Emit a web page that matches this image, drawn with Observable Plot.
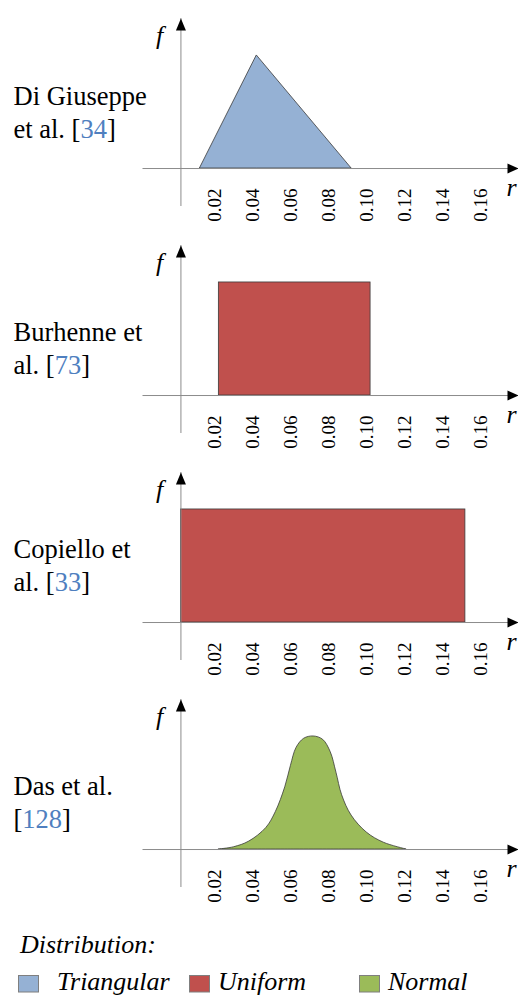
<!DOCTYPE html>
<html>
<head>
<meta charset="utf-8">
<script src="https://cdn.jsdelivr.net/npm/d3@7"></script>
<script src="https://cdn.jsdelivr.net/npm/@observablehq/plot@0.6"></script>
<style>
  html, body { margin: 0; padding: 0; background: #fff; }
  #chart { width: 518px; font-family: 'Liberation Serif', serif; }
  #chart svg { display: block; }
</style>
</head>
<body>
<div id="chart"></div>
<script>
// ---------------- data ----------------
const tickValues = [0.02, 0.04, 0.06, 0.08, 0.10, 0.12, 0.14, 0.16];
const tickLabels = ["0.02", "0.04", "0.06", "0.08", "0.10", "0.12", "0.14", "0.16"];

const studies = ["Di Giuseppe\net al. [34]", "Burhenne et\nal. [73]", "Copiello et\nal. [33]", "Das et al.\n[128]"];
const studyDistribution = ["Triangular", "Uniform", "Uniform", "Normal"];

// Di Giuseppe et al. – triangular
const triangularR = [0.01, 0.04, 0.09];
const triangularF = [0, 1, 0];
// Burhenne et al. – uniform
const uniformAR = [0.02, 0.10];
const uniformAF = [1, 1];
// Copiello et al. – uniform
const uniformBR = [0.00, 0.15];
const uniformBF = [1, 1];
// Das et al. – normal
const normalR = [0.020, 0.028, 0.036, 0.045, 0.050, 0.055, 0.058, 0.061, 0.065, 0.070, 0.075, 0.079, 0.082, 0.085, 0.090, 0.098, 0.107, 0.119];
const normalF = [0.00, 0.02, 0.07, 0.19, 0.33, 0.55, 0.74, 0.90, 0.98, 1.00, 0.97, 0.86, 0.68, 0.48, 0.30, 0.15, 0.06, 0.00];

const legendNames = ["Triangular", "Uniform", "Normal"];
const legendColors = ["#95b1d4", "#c0504d", "#9bbb59"];

// ---------------- helpers ----------------
const SERIF = "Liberation Serif";
const colorOf = name => legendColors[legendNames.indexOf(name)];
const OUTLINE = "#3a3a3a";
const AXIS = "#8c8c8c";
const REFBLUE = "#4f7fbf";

const arrowUp = {draw(ctx) { ctx.moveTo(0, 0); ctx.lineTo(5, 12); ctx.lineTo(-5, 12); ctx.closePath(); }};
const arrowRight = {draw(ctx) { ctx.moveTo(0, 0); ctx.lineTo(-11, -5); ctx.lineTo(-11, 5); ctx.closePath(); }};

function shapeMarks(i) {
  const dist = studyDistribution[i];
  const fill = colorOf(dist);
  if (i === 0) {
    const pts = triangularR.map((r, k) => ({r, f: triangularF[k]}));
    return [Plot.areaY(pts, {x: "r", y: "f", fill, stroke: OUTLINE, strokeWidth: 0.8})];
  }
  if (i === 1 || i === 2) {
    const R = i === 1 ? uniformAR : uniformBR;
    const F = i === 1 ? uniformAF : uniformBF;
    return [Plot.rect([{x1: R[0], x2: R[1], f: F[0]}], {x1: "x1", x2: "x2", y1: 0, y2: "f", fill, stroke: OUTLINE, strokeWidth: 0.8, inset: 0})];
  }
  const pts = normalR.map((r, k) => ({r, f: normalF[k]}));
  return [Plot.areaY(pts, {x: "r", y: "f", curve: "catmull-rom", fill, stroke: OUTLINE, strokeWidth: 0.8})];
}

const labelBaseline = [137, 146, 136, 146];

function panel(i) {
  const svg = Plot.plot({
    width: 518,
    height: 227,
    marginLeft: 142.5,
    marginRight: 0,
    marginTop: 18,
    marginBottom: 21,
    x: {domain: [-0.02, 0.178], axis: null},
    y: {domain: [-0.336, 1.327], axis: null},
    style: {fontFamily: "'Liberation Serif', serif", fontSize: "19px", background: "white", overflow: "visible", color: "black"},
    marks: [
      ...shapeMarks(i),
      Plot.ruleY([0], {stroke: AXIS, strokeWidth: 1}),
      Plot.ruleX([0], {stroke: AXIS, strokeWidth: 1}),
      Plot.dot([0], {x: d => d, frameAnchor: "top", symbol: arrowUp, fill: "black", stroke: "none", r: 5}),
      Plot.dot([0], {y: d => d, frameAnchor: "right", symbol: arrowRight, fill: "black", stroke: "none", r: 5}),
      Plot.text(tickValues, {x: d => d, text: (d, k) => tickLabels[k], frameAnchor: "bottom", dy: -18, dx: -3.5,
        rotate: -90, textAnchor: "end", lineAnchor: "middle", fontFamily: SERIF, fontSize: 19, fill: "black"}),
      Plot.text(["f"], {text: d => d, frameAnchor: "top-left", dx: 16.5, dy: 25, textAnchor: "middle", lineAnchor: "bottom",
        fontFamily: SERIF, fontStyle: "italic", fontSize: 26, fill: "black"}),
      Plot.text(["r"], {text: d => d, frameAnchor: "bottom-right", dx: -7, dy: -11, textAnchor: "middle", lineAnchor: "bottom",
        fontFamily: SERIF, fontStyle: "italic", fontSize: 26, fill: "black"}),
      Plot.text([studies[i]], {text: d => d, frameAnchor: "top-left", dx: 13 - 142.5, dy: labelBaseline[i] - 18,
        textAnchor: "start", lineAnchor: "bottom", lineHeight: 32 / 26, fontFamily: SERIF, fontSize: 26.5, fill: "black"})
    ]
  });
  // colour the reference numbers blue
  svg.querySelectorAll("text, tspan").forEach(el => {
    if (el.children.length) return;
    const m = /^(.*\[)(\d+)(\].*)$/.exec(el.textContent);
    if (!m) return;
    el.textContent = "";
    el.appendChild(document.createTextNode(m[1]));
    const t = document.createElementNS("http://www.w3.org/2000/svg", "tspan");
    t.setAttribute("fill", REFBLUE);
    t.textContent = m[2];
    el.appendChild(t);
    el.appendChild(document.createTextNode(m[3]));
  });
  return svg;
}

const chart = document.getElementById("chart");
for (let i = 0; i < studies.length; ++i) chart.appendChild(panel(i));

// ---------------- legend ----------------
const leg = d3.create("svg")
  .attr("width", 518).attr("height", 87)
  .style("display", "block")
  .attr("font-family", SERIF)
  .attr("font-style", "italic")
  .attr("font-size", 26);
leg.append("text").attr("x", 20).attr("y", 45).attr("fill", "black").text("Distribution:");
const swatchX = [18.5, 189.5, 359.5];
const labelX = [57, 218, 388];
legendNames.forEach((name, k) => {
  leg.append("rect").attr("x", swatchX[k]).attr("y", 67.5).attr("width", 20).attr("height", 16.5)
    .attr("fill", legendColors[k]).attr("stroke", "#7f7f7f").attr("stroke-width", 1);
  leg.append("text").attr("x", labelX[k]).attr("y", 82).attr("fill", "black").text(name);
});
chart.appendChild(leg.node());
</script>
</body>
</html>
